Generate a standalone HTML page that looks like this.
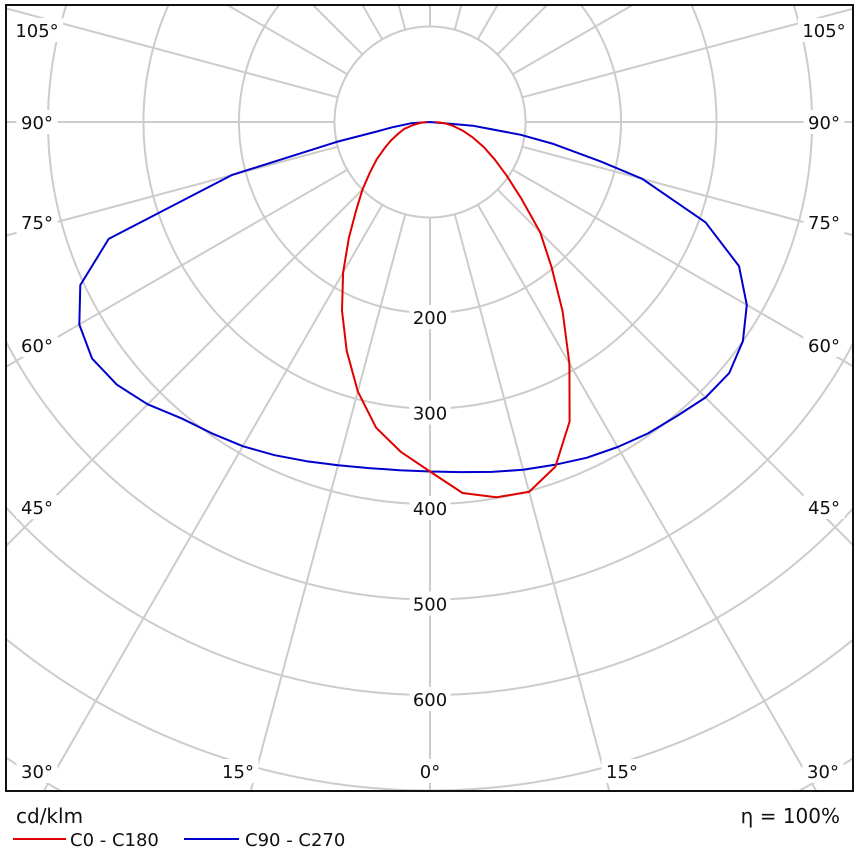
<!DOCTYPE html>
<html><head><meta charset="utf-8"><style>
html,body{margin:0;padding:0;background:#fff;overflow:hidden;width:860px;height:860px}
svg{display:block;font-family:"DejaVu Sans","Liberation Sans",sans-serif}
</style></head><body>
<svg id="c" width="860" height="860" viewBox="0 0 860 860">
<defs><clipPath id="clip"><rect x="6" y="5" width="847" height="786"/></clipPath></defs>
<g id="grid" clip-path="url(#clip)"></g>
<g id="series" clip-path="url(#clip)"></g>
<g id="labels"></g>
<rect x="6" y="5" width="847" height="786" fill="none" stroke="#111" stroke-width="2"/>
<text x="16" y="823" font-size="20" fill="#111">cd/klm</text>
<text x="840" y="823" font-size="20" fill="#111" text-anchor="end">η = 100%</text>
<line x1="13" y1="839" x2="66" y2="839" stroke="#e00000" stroke-width="2"/>
<text x="70" y="846" font-size="18" fill="#111">C0 - C180</text>
<line x1="184" y1="839" x2="239" y2="839" stroke="#0000cc" stroke-width="2"/>
<text x="245" y="846" font-size="18" fill="#111">C90 - C270</text>
</svg>
<script>
const ringValues=[100,200,300,400,500,600,700,800,900];
const ringLabels=["200","300","400","500","600"];
const spokeAngles=[-180,-165,-150,-135,-120,-105,-90,-75,-60,-45,-30,-15,0,15,30,45,60,75,90,105,120,135,150,165];
const angleLabels=["105°","90°","75°","60°","45°","30°","15°","0°"];
const c0Angles=[-90,-85,-80,-75,-70,-65,-60,-55,-50,-45,-40,-35,-30,-25,-20,-15,-10,-5,0,5,10,15,20,25,30,35,40,45,50,55,60,65,70,75,80,85,90];
const c0Values=[3,10,18,28,35,45,55,68,82,100,120,148,182,218,255,292,325,347,366,390,399,401,384,346,292,242,198,163,125,98,78,62,48,36,25,16,5];
const c90Angles=[-90,-86,-82,-80,-78,-75,-70,-65,-60,-55,-50,-45,-40,-35,-30,-25,-20,-15,-10,-5,0,5,10,15,20,25,30,35,40,45,50,55,60,65,70,75,77,80,82,85,90];
const c90Values=[0,20,40,55,100,215,358,404,424,432,428,418,405,398,392,385,378,372,368,366,366,368,372,377,382,388,393,398,402,408,409,400,383,357,307,230,183,130,96,45,0];
const cx=430,cy=122,k=0.955;
const X0=6,Y0=5,X1=853,Y1=791;
const NS='http://www.w3.org/2000/svg';
function rad(v){return v*k;}
function px(a,v){return cx+rad(v)*Math.sin(a*Math.PI/180);}
function py(a,v){return cy+rad(v)*Math.cos(a*Math.PI/180);}
function inside(x,y){return x>=X0-2&&x<=X1+2&&y>=Y0-2&&y<=Y1+2;}
function mk(tag,attrs,parent){const e=document.createElementNS(NS,tag);for(const n in attrs)e.setAttribute(n,attrs[n]);parent.appendChild(e);return e;}
const grid=document.getElementById('grid');
ringValues.forEach(v=>{
  let d='',pen=false;
  for(let t=0;t<=3600;t++){
    const a=t/10,x=px(a,v),y=py(a,v);
    if(inside(x,y)){d+=(pen?'L':'M')+x.toFixed(1)+','+y.toFixed(1);pen=true;}else pen=false;
  }
  if(!d)return;
  const e=mk('path',{d:d,fill:'none',stroke:'#cccccc','stroke-width':2},grid);
  
  
});
spokeAngles.forEach(a=>{
  const sx=Math.sin(a*Math.PI/180),sy=Math.cos(a*Math.PI/180);
  let tmax=1e9;
  if(sx>1e-9)tmax=Math.min(tmax,(X1-cx)/sx);
  if(sx<-1e-9)tmax=Math.min(tmax,(X0-cx)/sx);
  if(sy>1e-9)tmax=Math.min(tmax,(Y1-cy)/sy);
  if(sy<-1e-9)tmax=Math.min(tmax,(Y0-cy)/sy);
  const r0=rad(100);
  if(tmax<=r0)return;
  const e=mk('line',{x1:cx+r0*sx,y1:cy+r0*sy,x2:cx+tmax*sx,y2:cy+tmax*sy,stroke:'#cccccc','stroke-width':2},grid);
  
  
});
const ser=document.getElementById('series');
function poly(angles,vals,color,name){
  const d=angles.map((a,i)=>(i?'L':'M')+px(a,vals[i]).toFixed(1)+','+py(a,vals[i]).toFixed(1)).join(' ');
  const e=mk('path',{d:d,fill:'none',stroke:color,'stroke-width':2,'stroke-linejoin':'round'},ser);
  
  
}
poly(c90Angles,c90Values,'#0000cc','series-c90-c270');
poly(c0Angles,c0Values,'#e00000','series-c0-c180');
const lab=document.getElementById('labels');
function label(x,y,t,name){
  const w=t.length*11+8;
  const r=mk('rect',{x:x-w/2,y:y-12,width:w,height:24,fill:'#fff'},lab);
  
  
  const e=mk('text',{x:x,y:y+7,'font-size':18,'text-anchor':'middle',fill:'#111'},lab);
  e.textContent=t;
  
  
}
ringLabels.forEach(t=>{label(cx,cy+rad(+t)+4,t,'ring-label');});
const sideY=[30,122,222,345,507];
for(let i=0;i<5;i++){label(37,sideY[i],angleLabels[i],'angle-label-left');label(824,sideY[i],angleLabels[i],'angle-label-right');}
label(37,771,angleLabels[5],'angle-label-bottom');
label(238,771,angleLabels[6],'angle-label-bottom');
label(430,771,angleLabels[7],'angle-label-bottom');
label(622,771,angleLabels[6],'angle-label-bottom');
label(823,771,angleLabels[5],'angle-label-bottom');
</script>
</body></html>
